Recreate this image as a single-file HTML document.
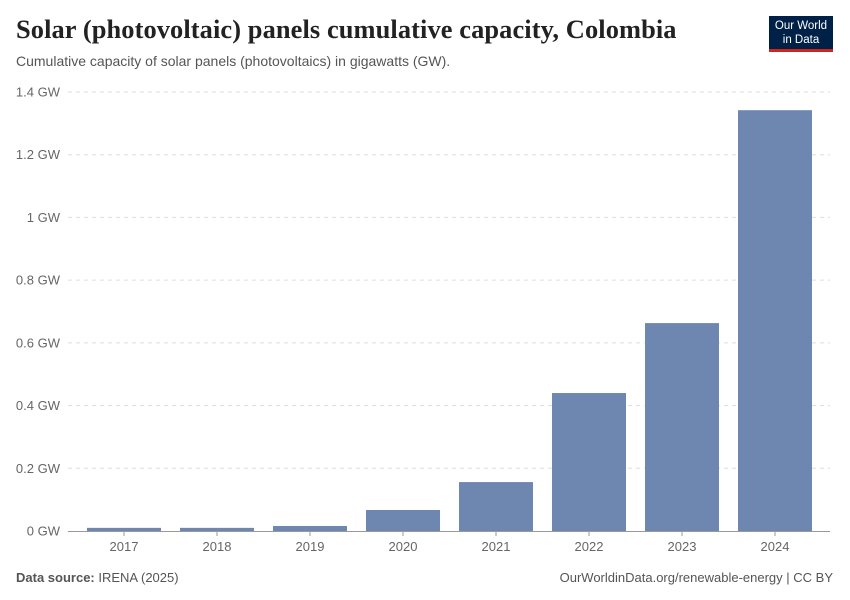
<!DOCTYPE html>
<html><head><meta charset="utf-8"><style>
body{margin:0;background:#fff;font-family:"Liberation Sans",sans-serif;}
#wrap{position:relative;width:850px;height:600px;overflow:hidden;}
.t{position:absolute;white-space:nowrap;}
</style></head><body>
<div id="wrap">
<div class="t" style="left:16px;top:14px;font-family:'Liberation Serif',serif;font-size:26.4px;letter-spacing:0.1px;font-weight:bold;color:#222;">Solar (photovoltaic) panels cumulative capacity, Colombia</div>
<div class="t" style="left:16px;top:53px;font-size:14px;color:#555;">Cumulative capacity of solar panels (photovoltaics) in gigawatts (GW).</div>
<div style="position:absolute;left:769px;top:16px;width:64px;height:36px;background:#002147;border-bottom:3px solid #ce261e;color:#fff;font-size:11.5px;line-height:14px;text-align:center;padding-top:3px;box-sizing:border-box;">Our World<br>in Data</div>
<svg id="chart" width="850" height="600" style="position:absolute;left:0;top:0"></svg>
<div class="t" style="left:16px;top:570px;font-size:13px;color:#555;"><b>Data source:</b> IRENA (2025)</div>
<div class="t" style="right:17px;top:570px;font-size:13px;color:#555;">OurWorldinData.org/renewable-energy | CC BY</div>
</div>
<script>
const years=["2017","2018","2019","2020","2021","2022","2023","2024"];
const values=[0.01,0.01,0.016,0.067,0.156,0.44,0.663,1.342];
const ticks=[0,0.2,0.4,0.6,0.8,1,1.2,1.4];
const tickLabels=["0 GW","0.2 GW","0.4 GW","0.6 GW","0.8 GW","1 GW","1.2 GW","1.4 GW"];
const svg=document.getElementById('chart');
const NS='http://www.w3.org/2000/svg';
const y0=531,yTop=92,vmax=1.4;
const y=v=>y0-(v/vmax)*(y0-yTop);
const bandStart=77.5,band=93,bw=74;
const x=i=>bandStart+i*band+(band-bw)/2;
function mk(tag,attrs){const e=document.createElementNS(NS,tag);for(const k in attrs)e.setAttribute(k,attrs[k]);svg.appendChild(e);return e;}
ticks.forEach((t,i)=>{
  if(t>0){const g=mk('line',{x1:68,x2:830,y1:y(t),y2:y(t),stroke:'#ddd','stroke-dasharray':'4,4'});
  
  }
  const l=mk('text',{x:60,y:y(t)+4.5,'text-anchor':'end','font-size':13,fill:'#666','font-family':'Liberation Sans,sans-serif'});
  l.textContent=tickLabels[i];
  
  
});
values.forEach((v,i)=>{
  const r=mk('rect',{x:x(i),y:y(v),width:bw,height:y0-y(v),fill:'#6d87b0'});
  
  
  const tk=mk('line',{x1:x(i)+bw/2,x2:x(i)+bw/2,y1:y0,y2:y0+5,stroke:'#999'});
  
  
  const l=mk('text',{x:x(i)+bw/2,y:y0+20,'text-anchor':'middle','font-size':13,fill:'#666','font-family':'Liberation Sans,sans-serif'});
  l.textContent=years[i];
  
  
});
const ax=mk('line',{x1:68,x2:830,y1:y0+0.5,y2:y0+0.5,stroke:'#999'});


</script>
</body></html>
